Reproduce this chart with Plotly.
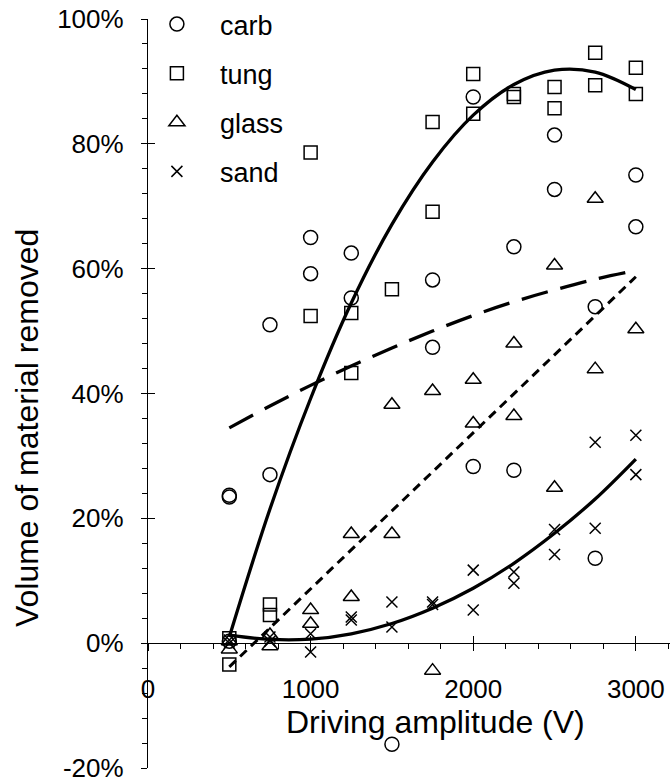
import plotly.graph_objects as go

# ---------------- data ----------------
carb_v = [500, 500, 500, 750, 750, 1000, 1000, 1250, 1250, 1500, 1750, 1750,
          2000, 2000, 2250, 2250, 2500, 2500, 2750, 2750, 3000, 3000]
carb_y = [23.7, 23.4, 0.3, 51.0, 27.0, 65.0, 59.2, 62.5, 55.3, -16.2, 58.2, 47.4,
          87.5, 28.3, 63.5, 27.7, 81.4, 72.7, 53.9, 13.6, 75.0, 66.7]

tung_v = [500, 500, 750, 750, 1000, 1000, 1250, 1250, 1500, 1750, 1750,
          2000, 2000, 2250, 2250, 2500, 2500, 2750, 2750, 3000, 3000]
tung_y = [0.8, -3.4, 6.2, 4.5, 78.6, 52.4, 52.9, 43.3, 56.7, 83.5, 69.1,
          91.2, 84.8, 88.0, 87.5, 89.1, 85.7, 94.6, 89.4, 92.2, 88.0]

glass_v = [500, 500, 750, 750, 1000, 1000, 1250, 1250, 1500, 1500, 1750, 1750,
           2000, 2000, 2250, 2250, 2500, 2500, 2750, 2750, 3000]
glass_y = [0.3, -1.0, 1.3, -0.5, 5.3, 3.1, 17.5, 7.4, 38.2, 17.5, 40.4, -4.4,
           42.2, 35.2, 48.0, 36.4, 60.5, 24.9, 71.2, 43.9, 50.3]

sand_v = [500, 500, 750, 750, 1000, 1000, 1250, 1250, 1500, 1500, 1750, 1750,
          2000, 2000, 2250, 2250, 2500, 2500, 2750, 2750, 3000, 3000]
sand_y = [0.5, 0.0, 1.0, 0.3, 1.5, -1.4, 4.2, 3.7, 6.6, 2.6, 6.6, 6.2,
          11.7, 5.3, 11.4, 9.6, 18.2, 14.2, 32.2, 18.4, 33.3, 27.0]

# fitted curves
fit_v = [500, 750, 1000, 1250, 1500, 1750, 2000, 2250, 2500, 2750, 3000]
carb_fit = [34.5, 38.0, 41.3, 44.4, 47.3, 50.0, 52.5, 54.7, 56.6, 58.3, 59.7]
tung_fit = [1.0, 21.5, 39.2, 54.5, 67.1, 77.1, 84.6, 89.5, 91.8, 91.5, 88.7]
sand_fit = [1.3, 0.6, 0.64, 1.5, 3.15, 5.6, 8.8, 12.8, 17.6, 23.1, 29.5]
glass_fit_v = [500, 3000]
glass_fit = [-3.8, 58.7]

x_tickvals = [0, 1000, 2000, 3000]
x_ticktext = ["0", "1000", "2000", "3000"]
y_tickvals = [-20, 0, 20, 40, 60, 80, 100]
y_ticktext = ["-20%", "0%", "20%", "40%", "60%", "80%", "100%"]

X_RANGE = [0, 3210]
Y_RANGE = [-20, 100]

FONT = "Liberation Sans, Arial, sans-serif"
BLACK = "black"

fig = go.Figure()


def pts(v, y, name, symbol, size):
    fig.add_trace(go.Scatter(
        x=v, y=y, mode="markers", name=name, legendgroup=name,
        marker=dict(symbol=symbol, size=size, color=BLACK,
                    line=dict(width=1.5, color=BLACK)),
        cliponaxis=False,
    ))


pts(carb_v, carb_y, "carb", "circle-open", 14)
pts(tung_v, tung_y, "tung", "square-open", 13)
pts(glass_v, glass_y, "glass", "triangle-up-open", 14)
pts(sand_v, sand_y, "sand", "x-thin-open", 11)


def fit(v, y, dash, width):
    fig.add_trace(go.Scatter(
        x=v, y=y, mode="lines", showlegend=False, hoverinfo="skip",
        line=dict(color=BLACK, width=width, dash=dash, shape="spline"),
    ))


fit(fit_v, tung_fit, "solid", 3.3)
fit(fit_v, sand_fit, "solid", 3.3)
fit(fit_v, carb_fit, "27px,13px", 3.3)
fit(glass_fit_v, glass_fit, "9px,6px", 3.0)

# helper traces so that overlay axes (for inward tick halves) are drawn
fig.add_trace(go.Scatter(x=[None], y=[None], xaxis="x2", yaxis="y",
                         showlegend=False, hoverinfo="skip"))
fig.add_trace(go.Scatter(x=[None], y=[None], xaxis="x", yaxis="y2",
                         showlegend=False, hoverinfo="skip"))

xpos = (0 - Y_RANGE[0]) / (Y_RANGE[1] - Y_RANGE[0])

common = dict(showgrid=False, zeroline=False, tickcolor=BLACK, tickwidth=1.3)

fig.update_layout(
    width=670, height=782,
    margin=dict(l=148, r=0, t=18, b=14),
    paper_bgcolor="white", plot_bgcolor="white",
    font=dict(family=FONT, color=BLACK, size=26),
    xaxis=dict(range=X_RANGE, anchor="free", position=xpos,
               showline=True, linecolor=BLACK, linewidth=1.3,
               ticks="outside", ticklen=7,
               tickmode="array", tickvals=x_tickvals, ticktext=x_ticktext,
               tickfont=dict(size=26, family=FONT, color=BLACK),
               ticklabelstandoff=15, ticklabeloverflow="allow",
               minor=dict(ticks="outside", ticklen=5, tick0=0, dtick=200,
                          tickcolor=BLACK, tickwidth=1.3),
               **common),
    xaxis2=dict(range=X_RANGE, overlaying="x", anchor="free", position=xpos,
                showline=False, ticks="inside", ticklen=7,
                tickmode="array", tickvals=x_tickvals[1:],
                showticklabels=False, **common),
    yaxis=dict(range=Y_RANGE, domain=[0, 1], anchor="x",
               showline=True, linecolor=BLACK, linewidth=1.3,
               ticks="outside", ticklen=6,
               tickmode="array", tickvals=y_tickvals, ticktext=y_ticktext,
               tickfont=dict(size=26, family=FONT, color=BLACK),
               ticklabelstandoff=12, ticklabeloverflow="allow",
               minor=dict(ticks="outside", ticklen=5, tick0=0, dtick=4,
                          tickcolor=BLACK, tickwidth=1.3),
               **common),
    yaxis2=dict(range=Y_RANGE, overlaying="y", anchor="x", side="left",
                showline=False, ticks="inside", ticklen=7,
                tickmode="array", tickvals=y_tickvals,
                showticklabels=False, **common),
    showlegend=True,
    legend=dict(x=-0.027, y=1.0247, xanchor="left", yanchor="top",
                font=dict(size=27, family=FONT, color=BLACK),
                itemwidth=76, tracegroupgap=11,
                bgcolor="rgba(0,0,0,0)", borderwidth=0),
    annotations=[
        dict(text="Driving amplitude (V)", xref="paper", yref="paper",
             x=0.5502, y=0.062, xanchor="center", yanchor="middle",
             showarrow=False, font=dict(size=32, family=FONT, color=BLACK)),
        dict(text="Volume of material removed", xref="paper", yref="paper",
             x=-0.2306, y=0.4533, xanchor="center", yanchor="middle",
             textangle=-90, showarrow=False,
             font=dict(size=32, family=FONT, color=BLACK)),
    ],
)

fig.write_html("out.html")
